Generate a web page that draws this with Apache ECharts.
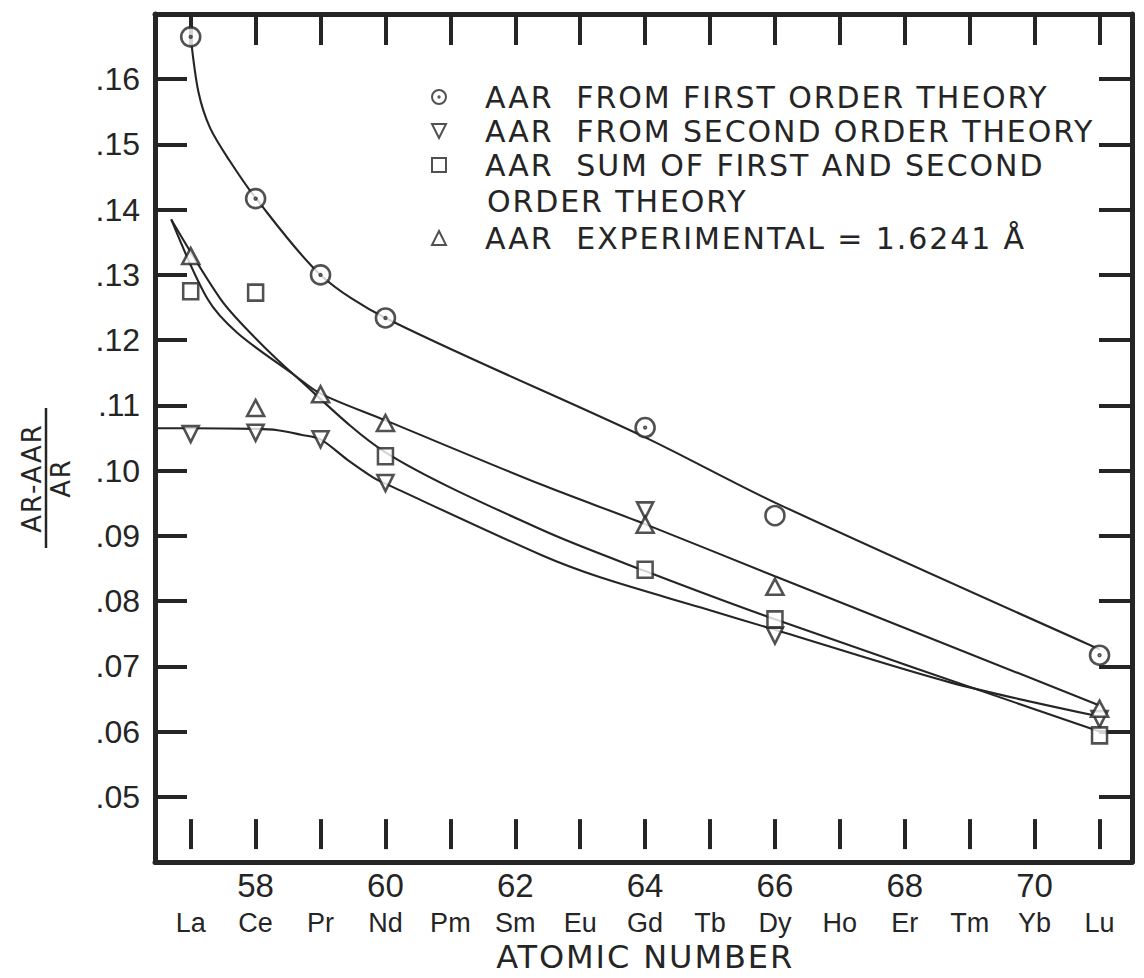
<!DOCTYPE html>
<html>
<head>
<meta charset="utf-8">
<script src="https://cdn.jsdelivr.net/npm/echarts@6/dist/echarts.min.js"></script>
<style>
  html, body { margin: 0; padding: 0; background: #ffffff; }
  #chart { width: 1144px; height: 978px; }
  /* lettering-style spacing for the legend and axis titles */
  #chart text[style*="DejaVu"] { letter-spacing: 1.9px; }
</style>
</head>
<body>
<div id="chart"></div>
<script>
// Axis categories
const atomicNumbers = [57, 58, 59, 60, 61, 62, 63, 64, 65, 66, 67, 68, 69, 70, 71];
const elementSymbols = ['La', 'Ce', 'Pr', 'Nd', 'Pm', 'Sm', 'Eu', 'Gd', 'Tb', 'Dy', 'Ho', 'Er', 'Tm', 'Yb', 'Lu'];

// Computed / measured points
const firstOrderX = [57, 58, 59, 60, 64, 66, 71];
const firstOrderY = [0.1665, 0.1417, 0.1300, 0.1234, 0.1066, 0.0931, 0.0717];

const secondOrderX = [57, 58, 59, 60, 64, 66, 71];
const secondOrderY = [0.1056, 0.1058, 0.1048, 0.0981, 0.0939, 0.0747, 0.0619];

const sumOrderX = [57, 58, 60, 64, 66, 71];
const sumOrderY = [0.1275, 0.1273, 0.1022, 0.0848, 0.0772, 0.0594];

const experimentalX = [57, 58, 59, 60, 64, 66, 71];
const experimentalY = [0.1329, 0.1096, 0.1117, 0.1073, 0.0917, 0.0822, 0.0635];

// Hand-faired curves through each set
const firstCurveX = [57, 57.12, 57.3, 57.6, 58, 59, 60, 64, 66, 71];
const firstCurveY = [0.1665, 0.1580, 0.1525, 0.1475, 0.1418, 0.1300, 0.1234, 0.1051, 0.0951, 0.0726];

const secondCurveX = [56.45, 57, 58, 58.34, 58.7, 59, 59.41, 59.82, 60, 62.39, 63.32, 64.86, 66, 68.71, 71];
const secondCurveY = [0.1065, 0.1065, 0.1064, 0.1062, 0.1055, 0.1048, 0.1017, 0.0989, 0.0980, 0.0871, 0.0836, 0.0790, 0.0756, 0.0675, 0.0623];

const sumCurveX = [56.7, 57.46, 57.92, 58.59, 60, 62.39, 64, 66, 71];
const sumCurveY = [0.1385, 0.1263, 0.1211, 0.1147, 0.1028, 0.0910, 0.0846, 0.0772, 0.0600];

const expCurveX = [56.7, 57.26, 57.72, 58.59, 59, 60, 62.39, 64, 66, 71];
const expCurveY = [0.1385, 0.1263, 0.1211, 0.1147, 0.1118, 0.1077, 0.0979, 0.0918, 0.0838, 0.0640];

// Legend texts
const nameFirst = 'AAR\u00A0 FROM FIRST ORDER THEORY';
const nameSecond = 'AAR\u00A0 FROM SECOND ORDER THEORY';
const nameSum = 'AAR\u00A0 SUM OF FIRST AND SECOND';
const nameSumLine2 = 'ORDER THEORY';
const nameExp = 'AAR\u00A0 EXPERIMENTAL = 1.6241 \u00C5';

const ink = '#252525';
const X_MIN = 56.45, X_MAX = 71.5, Y_MIN = 0.04, Y_MAX = 0.17;
const W = 1144, GRID_L = 155, GRID_R = 12, GRID_T = 14, GRID_B = 116;

// second grid spans exactly the first to the last atomic number, so its ticks fall on integers
const unit = (W - GRID_L - GRID_R) / (X_MAX - X_MIN);
const tickFirst = atomicNumbers[0], tickLast = atomicNumbers[atomicNumbers.length - 1];
const tickGridLeft = GRID_L + (tickFirst - X_MIN) * unit;
const tickGridRight = W - (GRID_L + (tickLast - X_MIN) * unit);

const pairs = (xs, ys) => xs.map((x, i) => [x, ys[i]]);
const dotCircle = 'path://M0,-10A10,10,0,1,1,0,10A10,10,0,1,1,0,-10ZM0,-0.9A0.9,0.9,0,1,1,0,0.9A0.9,0.9,0,1,1,0,-0.9Z';
const downTriangle = 'path://M0,0L10,0L5,10Z';

const markerStyle = { color: '#ffffff', borderColor: ink, borderWidth: 2.6 };
const curve = (xs, ys) => ({
  type: 'line', data: pairs(xs, ys), showSymbol: false, symbol: 'none',
  smooth: 0.3, z: 2, silent: true,
  lineStyle: { color: ink, width: 2.1 }
});

const frameLine = { show: true, onZero: false, lineStyle: { color: ink, width: 5 } };
const tickStyle = { color: ink, width: 4 };

const chart = echarts.init(document.getElementById('chart'), null, { renderer: 'svg' });
chart.setOption({
  animation: false,
  backgroundColor: '#ffffff',
  grid: [
    { left: GRID_L, right: GRID_R, top: GRID_T, bottom: GRID_B },
    { left: tickGridLeft, right: tickGridRight, top: GRID_T, bottom: GRID_B }
  ],
  xAxis: [
    // frame: bottom and top edges
    { gridIndex: 0, type: 'value', position: 'bottom', min: X_MIN, max: X_MAX, splitLine: { show: false },
      axisLine: frameLine, axisTick: { show: false }, axisLabel: { show: false } },
    { gridIndex: 0, type: 'value', position: 'top', min: X_MIN, max: X_MAX, splitLine: { show: false },
      axisLine: frameLine, axisTick: { show: false }, axisLabel: { show: false } },
    // ticks and atomic numbers
    { gridIndex: 1, type: 'value', position: 'bottom', min: tickFirst, max: tickLast, interval: 1,
      splitLine: { show: false }, axisLine: { show: false },
      axisTick: { show: true, inside: true, length: 30, lineStyle: tickStyle },
      axisLabel: { margin: 20, color: ink, fontFamily: 'Liberation Sans', fontSize: 33,
        formatter: v => (Math.round(v) % 2 === 0 ? String(Math.round(v)) : '') } },
    // element symbols and axis title
    { gridIndex: 1, type: 'value', position: 'bottom', min: tickFirst, max: tickLast, interval: 1,
      splitLine: { show: false }, axisLine: { show: false }, axisTick: { show: false },
      axisLabel: { margin: 60, color: ink, fontFamily: 'Liberation Sans', fontSize: 27,
        formatter: v => elementSymbols[atomicNumbers.indexOf(Math.round(v))] || '' },
      name: 'ATOMIC NUMBER', nameLocation: 'middle', nameGap: 74,
      nameTextStyle: { color: ink, fontFamily: 'DejaVu Sans', fontSize: 32 } },
    // top ticks
    { gridIndex: 1, type: 'value', position: 'top', min: tickFirst, max: tickLast, interval: 1,
      splitLine: { show: false }, axisLine: { show: false },
      axisTick: { show: true, inside: true, length: 31, lineStyle: tickStyle },
      axisLabel: { show: false } }
  ],
  yAxis: [
    { gridIndex: 0, type: 'value', position: 'left', min: Y_MIN, max: Y_MAX, interval: 0.01,
      splitLine: { show: false }, axisLine: frameLine,
      axisTick: { show: true, inside: true, length: 32, lineStyle: tickStyle },
      axisLabel: { margin: 15, color: ink, fontFamily: 'Liberation Sans', fontSize: 32,
        formatter: v => (v < 0.045 || v > 0.165 ? '' : v.toFixed(2).replace(/^0/, '')) } },
    { gridIndex: 0, type: 'value', position: 'right', min: Y_MIN, max: Y_MAX, interval: 0.01,
      splitLine: { show: false }, axisLine: frameLine,
      axisTick: { show: true, inside: true, length: 33, lineStyle: tickStyle },
      axisLabel: { show: false } },
    { gridIndex: 1, type: 'value', min: Y_MIN, max: Y_MAX, show: false }
  ],
  legend: [
    {
      data: [nameFirst, nameSecond, nameSum],
      orient: 'vertical', left: 426, top: 75, itemWidth: 14, itemHeight: 14, itemGap: 0,
      selectedMode: false,
      textStyle: { color: ink, fontFamily: 'DejaVu Sans', fontSize: 30, lineHeight: 34, padding: [0, 0, 0, 34] }
    },
    {
      data: [nameExp],
      orient: 'vertical', left: 426, top: 216, itemWidth: 14, itemHeight: 14, itemGap: 0,
      selectedMode: false,
      textStyle: { color: ink, fontFamily: 'DejaVu Sans', fontSize: 30, lineHeight: 34, padding: [0, 0, 0, 34] }
    }
  ],
  graphic: [
    {
      type: 'text', left: 487, top: 186, silent: true,
      style: { text: nameSumLine2, fill: ink, fontFamily: 'DejaVu Sans', fontSize: 30 }
    },
    {
      type: 'group', x: 46, y: 478, rotation: Math.PI / 2, silent: true,
      children: [
        { type: 'text', x: 0, y: -14, style: { text: 'AR-AAR', fill: ink, fontFamily: 'DejaVu Sans', fontSize: 26, align: 'center', verticalAlign: 'middle' } },
        { type: 'line', shape: { x1: -70, y1: 0, x2: 70, y2: 0 }, style: { stroke: ink, lineWidth: 2.5 } },
        { type: 'text', x: 0, y: 15, style: { text: 'AR', fill: ink, fontFamily: 'DejaVu Sans', fontSize: 26, align: 'center', verticalAlign: 'middle' } }
      ]
    }
  ],
  series: [
    curve(firstCurveX, firstCurveY),
    curve(secondCurveX, secondCurveY),
    curve(sumCurveX, sumCurveY),
    curve(expCurveX, expCurveY),
    {
      name: nameFirst, type: 'scatter', z: 4, symbol: dotCircle, symbolSize: 19, symbolKeepAspect: true,
      itemStyle: markerStyle,
      data: firstOrderX.map((x, i) => x === 66 ? { value: [x, firstOrderY[i]], symbol: 'circle' } : [x, firstOrderY[i]])
    },
    {
      name: nameSecond, type: 'scatter', z: 4, symbol: downTriangle, symbolSize: [16, 16],
      itemStyle: markerStyle, data: pairs(secondOrderX, secondOrderY)
    },
    {
      name: nameSum, type: 'scatter', z: 4, symbol: 'rect', symbolSize: [15, 16],
      itemStyle: markerStyle, data: pairs(sumOrderX, sumOrderY)
    },
    {
      name: nameExp, type: 'scatter', z: 4, symbol: 'triangle', symbolSize: [17, 16],
      itemStyle: markerStyle, data: pairs(experimentalX, experimentalY)
    }
  ]
});
</script>
</body>
</html>
